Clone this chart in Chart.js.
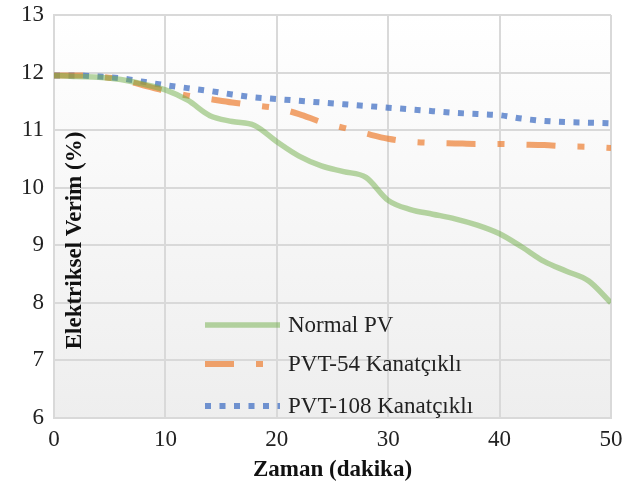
<!DOCTYPE html>
<html lang="tr">
<head>
<meta charset="UTF-8">
<title>Elektriksel Verim</title>
<script src="https://cdn.jsdelivr.net/npm/chart.js"></script>
<style>
    html, body { margin: 0; padding: 0; background: #fff; }
    #wrap { width: 624px; height: 486px; }
</style>
</head>
<body>
<div id="wrap"><canvas id="chart" width="624" height="486"></canvas></div>
<script>
    // zaman (dakika)
    const minutes = [0, 2, 4, 6, 8, 10, 12, 14, 16, 18, 20, 22, 24, 26, 28, 30, 32, 34, 36, 38, 40, 42, 44, 46, 48, 50];

    // seriler (%)
    const normalPV = [11.95, 11.93, 11.92, 11.88, 11.8, 11.7, 11.52, 11.25, 11.15, 11.08, 10.8, 10.55, 10.38, 10.28, 10.18, 9.78, 9.62, 9.54, 9.46, 9.35, 9.2, 8.97, 8.72, 8.55, 8.38, 8.0];
    const pvt54 = [11.95, 11.95, 11.93, 11.88, 11.78, 11.68, 11.6, 11.54, 11.48, 11.43, 11.38, 11.28, 11.14, 11.04, 10.94, 10.85, 10.8, 10.78, 10.77, 10.76, 10.76, 10.75, 10.74, 10.72, 10.71, 10.69];
    const pvt108 = [11.95, 11.95, 11.93, 11.9, 11.84, 11.78, 11.73, 11.68, 11.62, 11.57, 11.54, 11.51, 11.48, 11.45, 11.42, 11.39, 11.36, 11.33, 11.3, 11.28, 11.26, 11.2, 11.16, 11.14, 11.13, 11.12];

    const seriesNames = ['Normal PV', 'PVT-54 Kanatçıklı', 'PVT-108 Kanatçıklı'];
    const xTicks = [0, 10, 20, 30, 40, 50];
    const yTicks = [6, 7, 8, 9, 10, 11, 12, 13];

    const SERIF = "'Liberation Serif', 'DejaVu Serif', serif";
    const colors = ['rgba(112,173,71,0.5)', 'rgba(237,125,49,0.7)', 'rgba(68,114,196,0.75)'];
    const dashes = [[], [29, 22, 7, 22], [6, 8.5]];
    const widths = [5.5, 6, 6];

    const toPoints = vals => vals.map((v, i) => ({ x: minutes[i], y: v }));

    // arka plan gradyanı (çizim alanı)
    const plotBg = {
        id: 'plotBg',
        beforeDraw(chart) {
            const { ctx, chartArea: a } = chart;
            const g = ctx.createLinearGradient(0, a.top, 0, a.bottom);
            g.addColorStop(0, '#ffffff');
            g.addColorStop(1, '#eeeeee');
            ctx.save();
            ctx.fillStyle = g;
            ctx.fillRect(a.left, a.top, a.right - a.left, a.bottom - a.top);
            ctx.restore();
        }
    };

    // y ekseni başlığı ve lejant, çizim alanının içinde
    const insideLabels = {
        id: 'insideLabels',
        afterDatasetsDraw(chart) {
            const { ctx, chartArea: a } = chart;
            ctx.save();
            ctx.fillStyle = '#111';
            ctx.font = 'bold 23px ' + SERIF;
            ctx.textAlign = 'center';
            ctx.textBaseline = 'middle';
            ctx.translate(a.left + 21, (a.top + a.bottom) / 2 + 24);
            ctx.rotate(-Math.PI / 2);
            ctx.fillText('Elektriksel Verim (%)', 0, 0);
            ctx.restore();

            const rows = [a.bottom - 93, a.bottom - 54, a.bottom - 12];
            const x0 = a.left + 151;
            ctx.save();
            ctx.font = '23px ' + SERIF;
            ctx.textBaseline = 'middle';
            ctx.textAlign = 'left';
            seriesNames.forEach((name, i) => {
                ctx.beginPath();
                ctx.strokeStyle = colors[i];
                ctx.lineWidth = widths[i];
                ctx.lineCap = 'butt';
                ctx.setLineDash(dashes[i]);
                ctx.moveTo(x0, rows[i]);
                ctx.lineTo(x0 + 75, rows[i]);
                ctx.stroke();
                ctx.setLineDash([]);
                ctx.fillStyle = '#222';
                ctx.fillText(name, x0 + 83, rows[i] + 1);
            });
            ctx.restore();
        }
    };

    const datasets = [normalPV, pvt54, pvt108].map((vals, i) => ({
        label: seriesNames[i],
        data: toPoints(vals),
        borderColor: colors[i],
        borderWidth: widths[i],
        borderDash: dashes[i],
        borderCapStyle: 'butt',
        pointRadius: 0,
        tension: 0.4,
        cubicInterpolationMode: 'monotone',
        fill: false
    }));

    new Chart(document.getElementById('chart'), {
        type: 'line',
        data: { datasets: datasets },
        options: {
            responsive: false,
            animation: false,
            layout: { padding: { left: 0, right: 13, top: 15, bottom: 0 } },
            plugins: {
                legend: { display: false },
                tooltip: { enabled: false }
            },
            scales: {
                x: {
                    type: 'linear',
                    min: xTicks[0],
                    max: xTicks[xTicks.length - 1],
                    afterBuildTicks: s => { s.ticks = xTicks.map(v => ({ value: v })); },
                    afterFit: s => { s.height = 68; s.paddingLeft = 0; s.paddingRight = 0; },
                    grid: { color: '#d9d9d9', lineWidth: 2, drawTicks: false },
                    border: { color: '#d9d9d9', width: 2 },
                    ticks: { font: { family: SERIF, size: 23 }, color: '#222', padding: 8 },
                    title: {
                        display: true,
                        text: 'Zaman (dakika)',
                        font: { family: SERIF, size: 23, weight: 'bold' },
                        color: '#111',
                        padding: { top: 0, bottom: 2 }
                    }
                },
                y: {
                    min: yTicks[0],
                    max: yTicks[yTicks.length - 1],
                    afterBuildTicks: s => { s.ticks = yTicks.map(v => ({ value: v })); },
                    afterFit: s => { s.width = 54; s.paddingTop = 0; s.paddingBottom = 0; },
                    grid: { color: '#d9d9d9', lineWidth: 2, drawTicks: false },
                    border: { color: '#d9d9d9', width: 2 },
                    ticks: { font: { family: SERIF, size: 23 }, color: '#222', padding: 10 }
                }
            }
        },
        plugins: [plotBg, insideLabels]
    });
</script>
</body>
</html>
